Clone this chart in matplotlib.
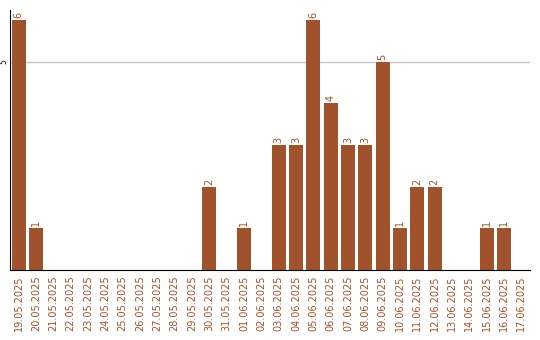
import matplotlib
matplotlib.use("Agg")
import matplotlib.pyplot as plt

dates = ["19.05.2025", "20.05.2025", "21.05.2025", "22.05.2025", "23.05.2025",
         "24.05.2025", "25.05.2025", "26.05.2025", "27.05.2025", "28.05.2025",
         "29.05.2025", "30.05.2025", "31.05.2025", "01.06.2025", "02.06.2025",
         "03.06.2025", "04.06.2025", "05.06.2025", "06.06.2025", "07.06.2025",
         "08.06.2025", "09.06.2025", "10.06.2025", "11.06.2025", "12.06.2025",
         "13.06.2025", "14.06.2025", "15.06.2025", "16.06.2025", "17.06.2025"]
counts = [6, 1, 0, 0, 0, 0, 0, 0, 0, 0, 0, 2, 0, 1, 0,
          3, 3, 6, 4, 3, 3, 5, 1, 2, 2, 0, 0, 1, 1, 0]

bar_color = "#a0522d"

fig = plt.figure(figsize=(5.4, 3.4), dpi=100)
ax = fig.add_axes([10 / 540, 70 / 340, 520 / 540, 260 / 340])

x = range(len(dates))
ax.bar(x, counts, width=0.82, color=bar_color, zorder=2)
for i, v in enumerate(counts):
    if v > 0:
        ax.text(i, v + 0.05, str(v), rotation=90, ha="center", va="bottom",
                fontsize=7, color=bar_color)

ax.set_xlim(-0.5, len(dates) - 0.5)
ax.set_ylim(0, 6.24)
ax.set_yticks([5])
ax.set_yticklabels(["5"], rotation=90, va="center", fontsize=5.5)
ax.tick_params(axis="y", length=0, pad=1)
ax.yaxis.grid(True, color="#c8c8c8", linewidth=1, zorder=0)
ax.set_xticks(list(x))
ax.set_xticklabels(dates, rotation=90, fontsize=7, color=bar_color)
ax.tick_params(axis="x", length=0, pad=4)
for s in ["top", "right"]:
    ax.spines[s].set_visible(False)
ax.spines["bottom"].set_color("black")
ax.spines["left"].set_color("black")

fig.savefig("out.png", dpi=100)
